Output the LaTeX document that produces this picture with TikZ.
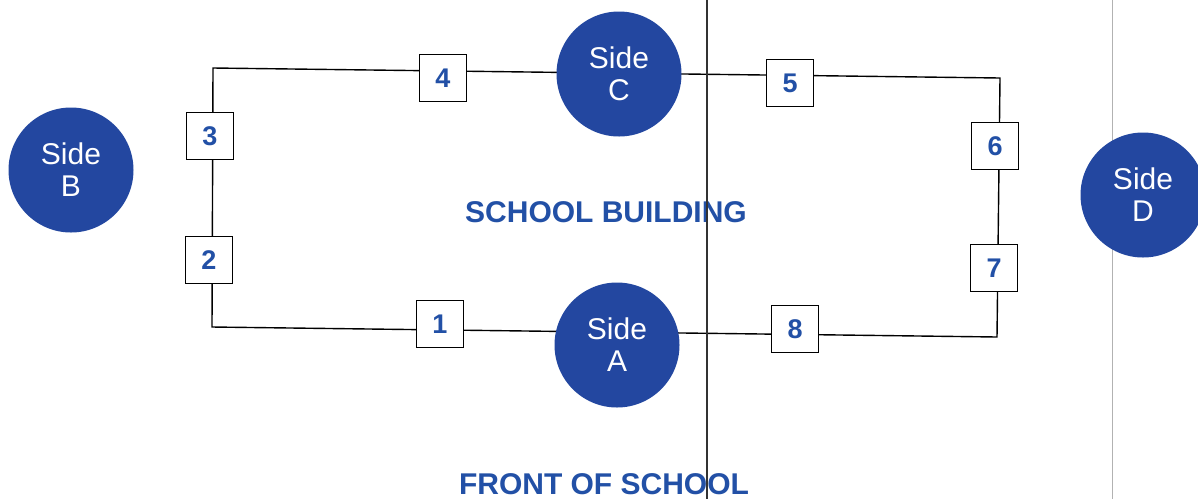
\documentclass[tikz,border=0pt]{standalone}
\usepackage{fontspec}
\newfontfamily\arialfont{Liberation Sans}
\definecolor{sideblue}{HTML}{2347A0}
\definecolor{textblue}{HTML}{2250A6}
\tikzset{
  side/.style={circle, fill=sideblue, minimum size=125pt, inner sep=0pt, text=white,
    font=\arialfont\fontsize{30}{32}\selectfont, align=center},
  numbox/.style={draw, line width=1.3pt, fill=white, minimum size=47pt, inner sep=0pt,
    text=textblue, font=\arialfont\bfseries\fontsize{27}{30}\selectfont},
  wire/.style={line width=1.4pt},
  label/.style={text=textblue, font=\arialfont\bfseries\fontsize{30}{32}\selectfont, anchor=base}
}
\begin{document}
\begin{tikzpicture}[x=1pt,y=-1pt]
\useasboundingbox (0,0) rectangle (1198,499);
\fill[white] (0,0) rectangle (1198,499);
% scan artifacts
\coordinate (s1) at (707,0);
\coordinate (s2) at (707,499);
\coordinate (s3) at (1112,0);
\coordinate (s4) at (1112,499);
\draw[black!30, line width=0.8pt] (s3) -- (s4);
% wire loop
\coordinate (c1) at (213,68);
\coordinate (c2) at (1000,78);
\coordinate (c3) at (997,337);
\coordinate (c4) at (212,327);
\draw[wire] (c1) -- (c2) -- (c3) -- (c4) -- cycle;
% boxes
\node[numbox] (b1) at (440,324) {1};
\node[numbox] (b2) at (209,260) {2};
\node[numbox] (b3) at (210,136) {3};
\node[numbox] (b4) at (443,78) {4};
\node[numbox] (b5) at (790,83) {5};
\node[numbox] (b6) at (995,146) {6};
\node[numbox] (b7) at (994,268) {7};
\node[numbox] (b8) at (795,329) {8};
% sides
\node[side] (sa) at (617,345) {Side\\A};
\node[side] (sb) at (71,170) {Side\\B};
\node[side] (sc) at (619,74) {Side\\C};
\node[side] (sd) at (1143,195) {Side\\D};
% labels
\node[label] (bld) at (606,222) {SCHOOL BUILDING};
\node[label] (front) at (604,494) {FRONT OF SCHOOL};
\draw[black!80, line width=1.1pt] (s1) -- (s2);
\end{tikzpicture}
\end{document}
